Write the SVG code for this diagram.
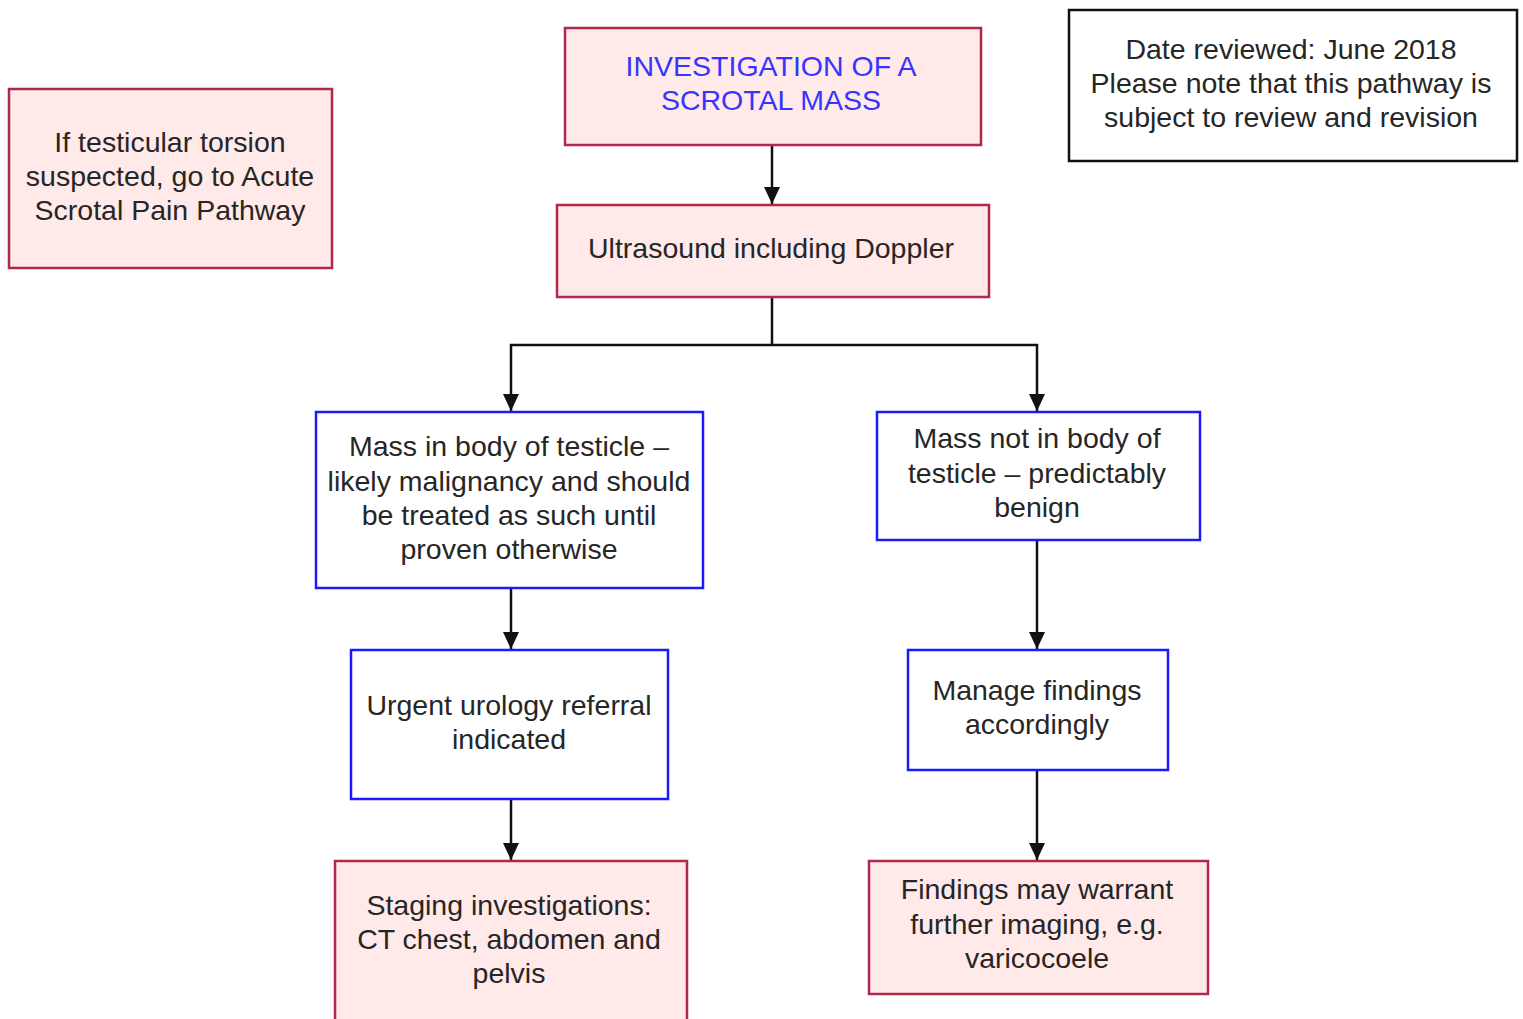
<svg xmlns="http://www.w3.org/2000/svg" width="1523" height="1019" viewBox="0 0 1523 1019">
<style>
.red{fill:#ffe9e9;stroke:#b0284c;stroke-width:2.5}
.blue{fill:#ffffff;stroke:#1a1aff;stroke-width:2.5}
.note{fill:#ffffff;stroke:#111;stroke-width:2.5}
text{font-family:"Liberation Sans",Arial,sans-serif;font-size:28.5px;fill:#262626;text-anchor:middle}
.title{fill:#3535ff}
.conn{fill:none;stroke:#111;stroke-width:2.5;marker-end:url(#arr)}
.seg{fill:none;stroke:#111;stroke-width:2.5}
</style>
<defs>
<marker id="arr" markerUnits="userSpaceOnUse" markerWidth="18" markerHeight="18" viewBox="0 0 18 18" refX="17" refY="8" orient="auto">
<path d="M0,0 L17,8 L0,16 Z" fill="#111"/>
</marker>
</defs>
<g id="connectors">
<line class="conn" x1="772" y1="145" x2="772" y2="204"/>
<line class="seg" x1="772" y1="297" x2="772" y2="345"/>
<polyline class="conn" points="772,345 511,345 511,411"/>
<polyline class="conn" points="772,345 1037,345 1037,411"/>
<line class="conn" x1="511" y1="588" x2="511" y2="649"/>
<line class="conn" x1="511" y1="799" x2="511" y2="860"/>
<line class="conn" x1="1037" y1="540" x2="1037" y2="649"/>
<line class="conn" x1="1037" y1="770" x2="1037" y2="860"/>
</g>
<g id="title">
<rect class="red" x="565" y="28" width="416" height="117"/>
<text class="title" x="771" y="76">INVESTIGATION OF A</text>
<text class="title" x="771" y="110">SCROTAL MASS</text>
</g>
<g id="ultrasound">
<rect class="red" x="557" y="205" width="432" height="92"/>
<text x="771" y="258">Ultrasound including Doppler</text>
</g>
<g id="torsion-note">
<rect class="red" x="9" y="89" width="323" height="179"/>
<text x="170" y="152">If testicular torsion</text>
<text x="170" y="186">suspected, go to Acute</text>
<text x="170" y="220">Scrotal Pain Pathway</text>
</g>
<g id="review-note">
<rect class="note" x="1069" y="10" width="448" height="151"/>
<text x="1291" y="59">Date reviewed: June 2018</text>
<text x="1291" y="93">Please note that this pathway is</text>
<text x="1291" y="127">subject to review and revision</text>
</g>
<g id="mass-in-body">
<rect class="blue" x="316" y="412" width="387" height="176"/>
<text x="509" y="456">Mass in body of testicle –</text>
<text x="509" y="491">likely malignancy and should</text>
<text x="509" y="525">be treated as such until</text>
<text x="509" y="559">proven otherwise</text>
</g>
<g id="mass-not-in-body">
<rect class="blue" x="877" y="412" width="323" height="128"/>
<text x="1037" y="448">Mass not in body of</text>
<text x="1037" y="483">testicle – predictably</text>
<text x="1037" y="517">benign</text>
</g>
<g id="urgent">
<rect class="blue" x="351" y="650" width="317" height="149"/>
<text x="509" y="715">Urgent urology referral</text>
<text x="509" y="749">indicated</text>
</g>
<g id="manage">
<rect class="blue" x="908" y="650" width="260" height="120"/>
<text x="1037" y="700">Manage findings</text>
<text x="1037" y="734">accordingly</text>
</g>
<g id="staging">
<rect class="red" x="335" y="861" width="352" height="170"/>
<text x="509" y="915">Staging investigations:</text>
<text x="509" y="949">CT chest, abdomen and</text>
<text x="509" y="983">pelvis</text>
</g>
<g id="findings">
<rect class="red" x="869" y="861" width="339" height="133"/>
<text x="1037" y="899">Findings may warrant</text>
<text x="1037" y="934">further imaging, e.g.</text>
<text x="1037" y="968">varicocoele</text>
</g>
</svg>
